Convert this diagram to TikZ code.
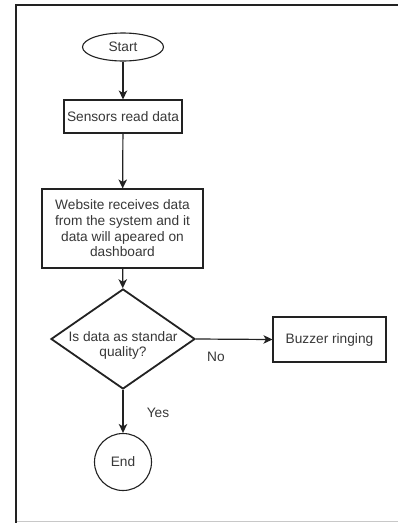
\documentclass[tikz,border=0pt]{standalone}
\usepackage{fontspec}
\setmainfont{Liberation Sans}
\usetikzlibrary{shapes.geometric,arrows.meta}
\definecolor{ink}{HTML}{222222}
\definecolor{txt}{HTML}{383838}
\definecolor{rim}{HTML}{C8C8C8}
\tikzset{
  base/.style={draw=ink, line width=1.1pt, text=txt, font=\fontsize{13.7}{15.7}\selectfont, align=center, inner sep=0pt},
  stepbox/.style={base, rectangle},
  terminal/.style={base, ellipse, minimum width=81pt, minimum height=28pt},
  endcircle/.style={base, circle, minimum size=57pt},
  decision/.style={draw=ink, line width=1.8pt, diamond, minimum width=144pt, minimum height=100pt, inner sep=0pt},
  flow/.style={draw=ink, line width=1.2pt, -{Stealth[length=9pt,width=8.5pt,inset=2.5pt]}},
  lbl/.style={text=txt, font=\fontsize{13.7}{15.7}\selectfont, inner sep=0pt}
}
\begin{document}
\begin{tikzpicture}[x=1pt,y=-1pt]
  \useasboundingbox (0,0) rectangle (398,523);
  \fill[white] (0,0) rectangle (398,523);
  % page frame
  \draw[ink, line width=2pt] (16,523) -- (16,5) -- (398,5);
  \draw[rim, line width=1pt] (17,521.5) -- (398,521.5);

  % shapes
  \node[terminal] (start) at (123,47) {Start};
  \node[stepbox, minimum width=118pt, minimum height=33pt] (read) at (123,116.5) {Sensors read data};
  \node[stepbox, minimum width=161pt, minimum height=79pt] (web) at (122.5,228.5)
    {Website receives data\\from the system and it\\data will apeared on\\dashboard};
  \node[decision] (dec) at (123,339) {};
  \node[lbl, align=center] (dectext) at (123,345.5) {Is data as standar\\quality?};
  \node[stepbox, minimum width=113pt, minimum height=45pt] (buzz) at (329.5,339.5) {Buzzer ringing};
  \node[endcircle] (end) at (123,462) {End};

  % connectors
  \draw[flow] (start) -- (read);
  \draw[flow] (read) -- (web);
  \draw[flow] (web) -- (dec);
  \draw[flow] (dec.east) -- (buzz.west);
  \draw[flow] (dec.south) -- (end);

  % branch labels
  \node[lbl] (nolbl) at (216,357) {No};
  \node[lbl] (yeslbl) at (158,413) {Yes};
\end{tikzpicture}
\end{document}
